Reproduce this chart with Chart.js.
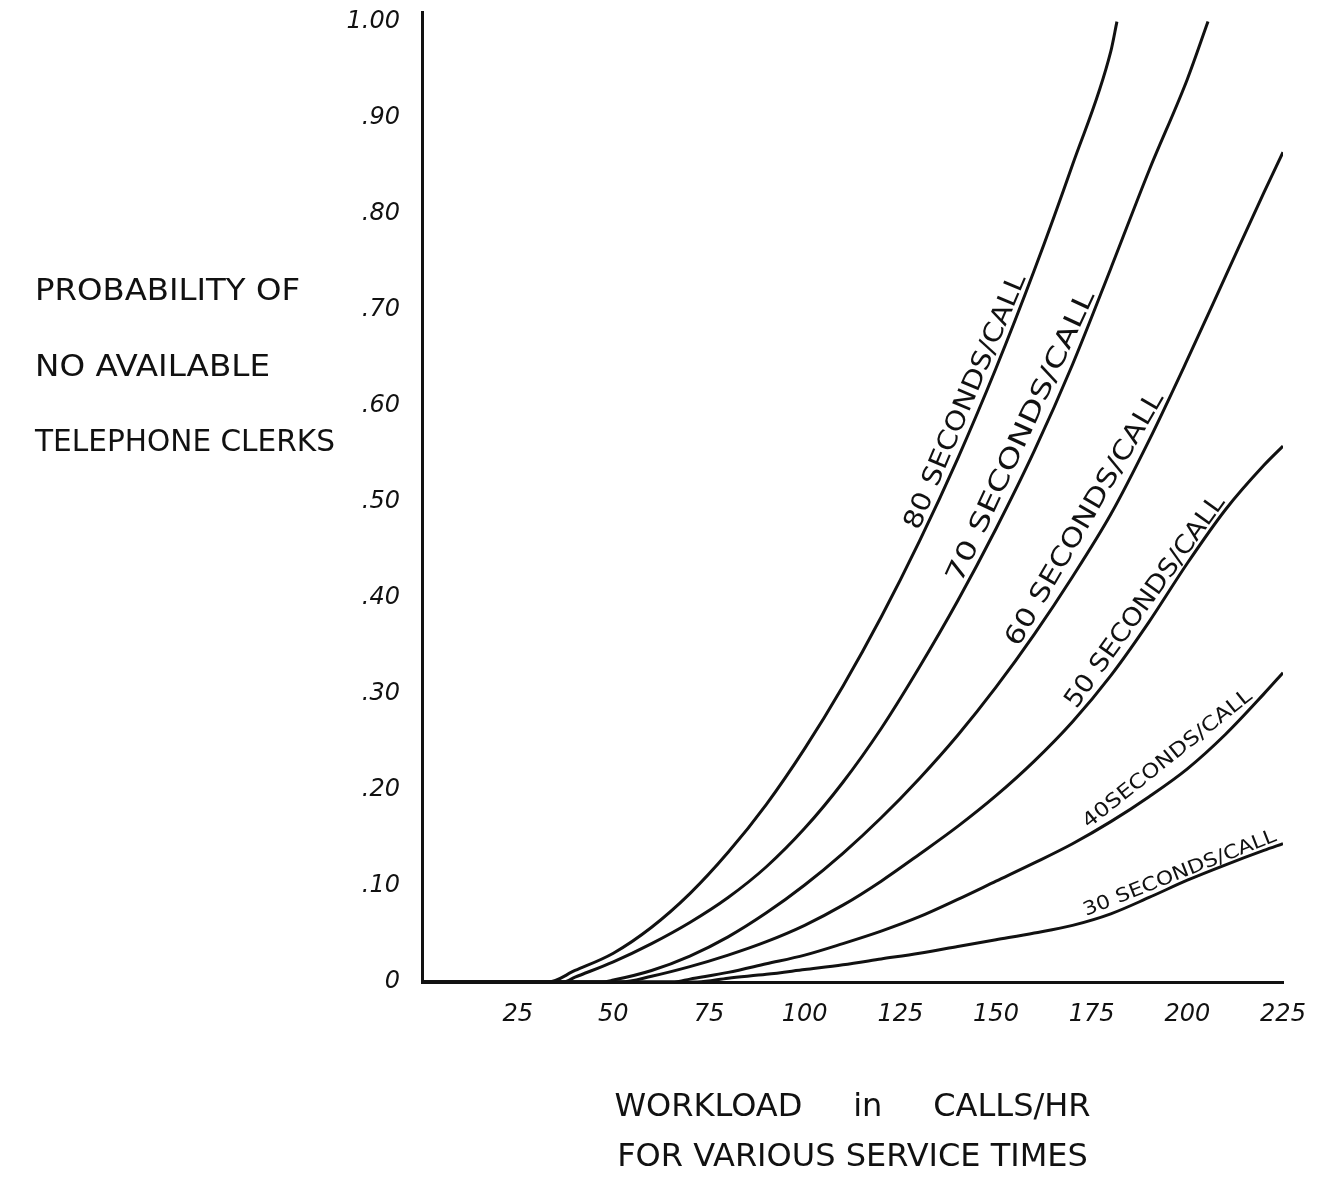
<!DOCTYPE html>
<html>
<head>
<meta charset="utf-8">
<script src="https://cdn.jsdelivr.net/npm/chart.js@4.4.0/dist/chart.umd.min.js"></script>
<style>
  html, body { margin: 0; padding: 0; background: #ffffff; }
  #wrap { width: 1323px; height: 1183px; position: relative; }
</style>
</head>
<body>
<div id="wrap"><canvas id="c" width="1323" height="1183"></canvas></div>
<script>
// ---- data (workload in calls/hr, probability) ----
const load80 = [0, 33, 40, 50, 60, 70, 80, 90, 100, 110, 120, 130, 140, 150, 160, 170, 180, 181.6];
const prob80 = [0, 0, 0.012, 0.030, 0.057, 0.092, 0.135, 0.185, 0.243, 0.308, 0.380, 0.459, 0.545, 0.639, 0.741, 0.851, 0.969, 1.0];

const load70 = [0, 37, 40, 50, 60, 70, 80, 90, 100, 110, 120, 130, 140, 150, 160, 170, 180, 190, 200, 205.4];
const prob70 = [0, 0, 0.005, 0.021, 0.040, 0.062, 0.088, 0.120, 0.160, 0.208, 0.264, 0.328, 0.397, 0.472, 0.553, 0.643, 0.743, 0.845, 0.940, 1.0];

const load60 = [0, 47, 50, 60, 70, 80, 90, 100, 110, 120, 130, 140, 150, 160, 170, 180, 190, 200, 210, 220, 225];
const prob60 = [0, 0, 0.002, 0.012, 0.027, 0.047, 0.072, 0.101, 0.134, 0.171, 0.212, 0.257, 0.307, 0.362, 0.422, 0.487, 0.564, 0.648, 0.735, 0.822, 0.864];

const load50 = [0, 52, 60, 70, 80, 90, 100, 110, 120, 130, 140, 150, 160, 170, 180, 190, 200, 210, 220, 225];
const prob50 = [0, 0, 0.006, 0.016, 0.028, 0.042, 0.059, 0.080, 0.105, 0.133, 0.162, 0.194, 0.230, 0.271, 0.319, 0.375, 0.436, 0.492, 0.538, 0.558];

const load40 = [0, 66, 70, 80, 90, 100, 110, 120, 130, 140, 150, 160, 170, 180, 190, 200, 210, 220, 225];
const prob40 = [0, 0, 0.003, 0.010, 0.019, 0.028, 0.040, 0.053, 0.068, 0.086, 0.105, 0.124, 0.144, 0.167, 0.193, 0.222, 0.258, 0.300, 0.322];

const load30 = [0, 72, 80, 90, 100, 110, 120, 130, 140, 150, 160, 170, 180, 190, 200, 210, 220, 225];
const prob30 = [0, 0, 0.004, 0.008, 0.013, 0.018, 0.024, 0.030, 0.037, 0.044, 0.051, 0.059, 0.071, 0.088, 0.106, 0.122, 0.137, 0.144];

const seriesLoads = [load80, load70, load60, load50, load40, load30];
const seriesProbs = [prob80, prob70, prob60, prob50, prob40, prob30];
const curveLabels = ['80 SECONDS/CALL', '70 SECONDS/CALL', '60 SECONDS/CALL', '50 SECONDS/CALL', '40SECONDS/CALL', '30 SECONDS/CALL'];
// workload range along each curve that its label spans
const labelFrom = [131, 142, 157, 172, 175, 174];
const labelTo   = [159, 177, 195, 211, 218, 224];

const xTickValues = [0, 25, 50, 75, 100, 125, 150, 175, 200, 225];
const yTickValues = [0, 0.1, 0.2, 0.3, 0.4, 0.5, 0.6, 0.7, 0.8, 0.9, 1.0];

const yTitleLines = ['PROBABILITY OF', 'NO AVAILABLE', 'TELEPHONE CLERKS'];
const xTitleLines = ['WORKLOAD     in     CALLS/HR', 'FOR VARIOUS SERVICE TIMES'];

// ---- chart ----
const INK = '#111111';
const LETTER = '"DejaVu Sans", "Liberation Sans", sans-serif';
const labelFontSizes = [26, 26, 26, 25, 20, 19];

function probAt(xsArr, ysArr, v) {
  for (let i = 1; i < xsArr.length; i++) {
    if (v <= xsArr[i]) {
      const t = (v - xsArr[i - 1]) / (xsArr[i] - xsArr[i - 1]);
      return ysArr[i - 1] + t * (ysArr[i] - ysArr[i - 1]);
    }
  }
  return ysArr[ysArr.length - 1];
}

const curveLabelPlugin = {
  id: 'curveLabels',
  afterDatasetsDraw(chart) {
    const ctx = chart.ctx;
    const xs = chart.scales.x, ys = chart.scales.y;
    curveLabels.forEach((txt, i) => {
      const a = labelFrom[i], b = labelTo[i];
      const ax = xs.getPixelForValue(a), ay = ys.getPixelForValue(probAt(seriesLoads[i], seriesProbs[i], a));
      const bx = xs.getPixelForValue(b), by = ys.getPixelForValue(probAt(seriesLoads[i], seriesProbs[i], b));
      const ang = Math.atan2(by - ay, bx - ax);
      const len = Math.hypot(bx - ax, by - ay);
      ctx.save();
      ctx.font = labelFontSizes[i] + 'px ' + LETTER;
      const w = ctx.measureText(txt).width;
      ctx.translate(ax, ay);
      ctx.rotate(ang);
      ctx.scale(len / w, 1);
      ctx.fillStyle = INK;
      ctx.textAlign = 'left';
      ctx.textBaseline = 'alphabetic';
      ctx.fillText(txt, 0, -5);
      ctx.restore();
    });
  }
};

const yTitlePlugin = {
  id: 'yTitle',
  afterDraw(chart) {
    const ctx = chart.ctx;
    const left = 35;
    const centers = [292, 368, 443];
    const widths = [265, 235, 300];
    ctx.save();
    ctx.fillStyle = INK;
    ctx.textAlign = 'left';
    ctx.textBaseline = 'middle';
    ctx.font = '31px ' + LETTER;
    yTitleLines.forEach((line, i) => {
      const w = ctx.measureText(line).width;
      ctx.setTransform(1, 0, 0, 1, 0, 0);
      ctx.translate(left, centers[i]);
      ctx.scale(widths[i] / w, 1);
      ctx.fillText(line, 0, 0);
    });
    ctx.restore();
  }
};

const bgPlugin = {
  id: 'bg',
  beforeDraw(chart) {
    const ctx = chart.ctx;
    ctx.save();
    ctx.fillStyle = '#ffffff';
    ctx.fillRect(0, 0, chart.width, chart.height);
    ctx.restore();
  }
};

const datasets = seriesLoads.map((loads, i) => ({
  label: curveLabels[i],
  data: loads.map((x, k) => ({ x: x, y: seriesProbs[i][k] })),
  borderColor: INK,
  borderWidth: 3,
  pointRadius: 0,
  fill: false,
  cubicInterpolationMode: 'monotone'
}));

new Chart(document.getElementById('c'), {
  type: 'line',
  data: { datasets },
  plugins: [bgPlugin, curveLabelPlugin, yTitlePlugin],
  options: {
    responsive: false,
    animation: false,
    devicePixelRatio: 1,
    layout: { padding: { left: 0, right: 40, top: 12, bottom: 0 } },
    plugins: { legend: { display: false }, tooltip: { enabled: false } },
    scales: {
      x: {
        type: 'linear',
        min: 0,
        max: 225,
        afterBuildTicks(scale) { scale.ticks = xTickValues.map(v => ({ value: v })); },
        afterFit(scale) { scale.height = 201; scale.paddingLeft = 0; scale.paddingRight = 0; },
        grid: { display: false, drawTicks: false },
        border: { display: true, color: INK, width: 3 },
        ticks: {
          autoSkip: false,
          maxRotation: 0,
          padding: 18,
          color: INK,
          font: { family: 'DejaVu Sans', size: 24, style: 'italic' },
          callback: (v) => (v === 0 ? '' : String(v))
        },
        title: {
          display: true,
          text: xTitleLines,
          color: INK,
          font: { family: 'DejaVu Sans', size: 32, lineHeight: 50 / 32 },
          padding: { top: 0, bottom: 0 }
        }
      },
      y: {
        type: 'linear',
        min: 0,
        max: 1.01,
        afterBuildTicks(scale) { scale.ticks = yTickValues.map(v => ({ value: v })); },
        afterFit(scale) { scale.width = 422; scale.paddingTop = 0; scale.paddingBottom = 0; },
        grid: { display: false, drawTicks: false },
        border: { display: true, color: INK, width: 3 },
        ticks: {
          autoSkip: false,
          padding: 22,
          color: INK,
          font: { family: 'DejaVu Sans', size: 24, style: 'italic' },
          callback: (v) => {
            const r = Math.round(v * 100);
            if (r === 0) return '0';
            if (r === 100) return '1.00';
            return '.' + String(r);
          }
        }
      }
    }
  }
});
</script>
</body>
</html>
